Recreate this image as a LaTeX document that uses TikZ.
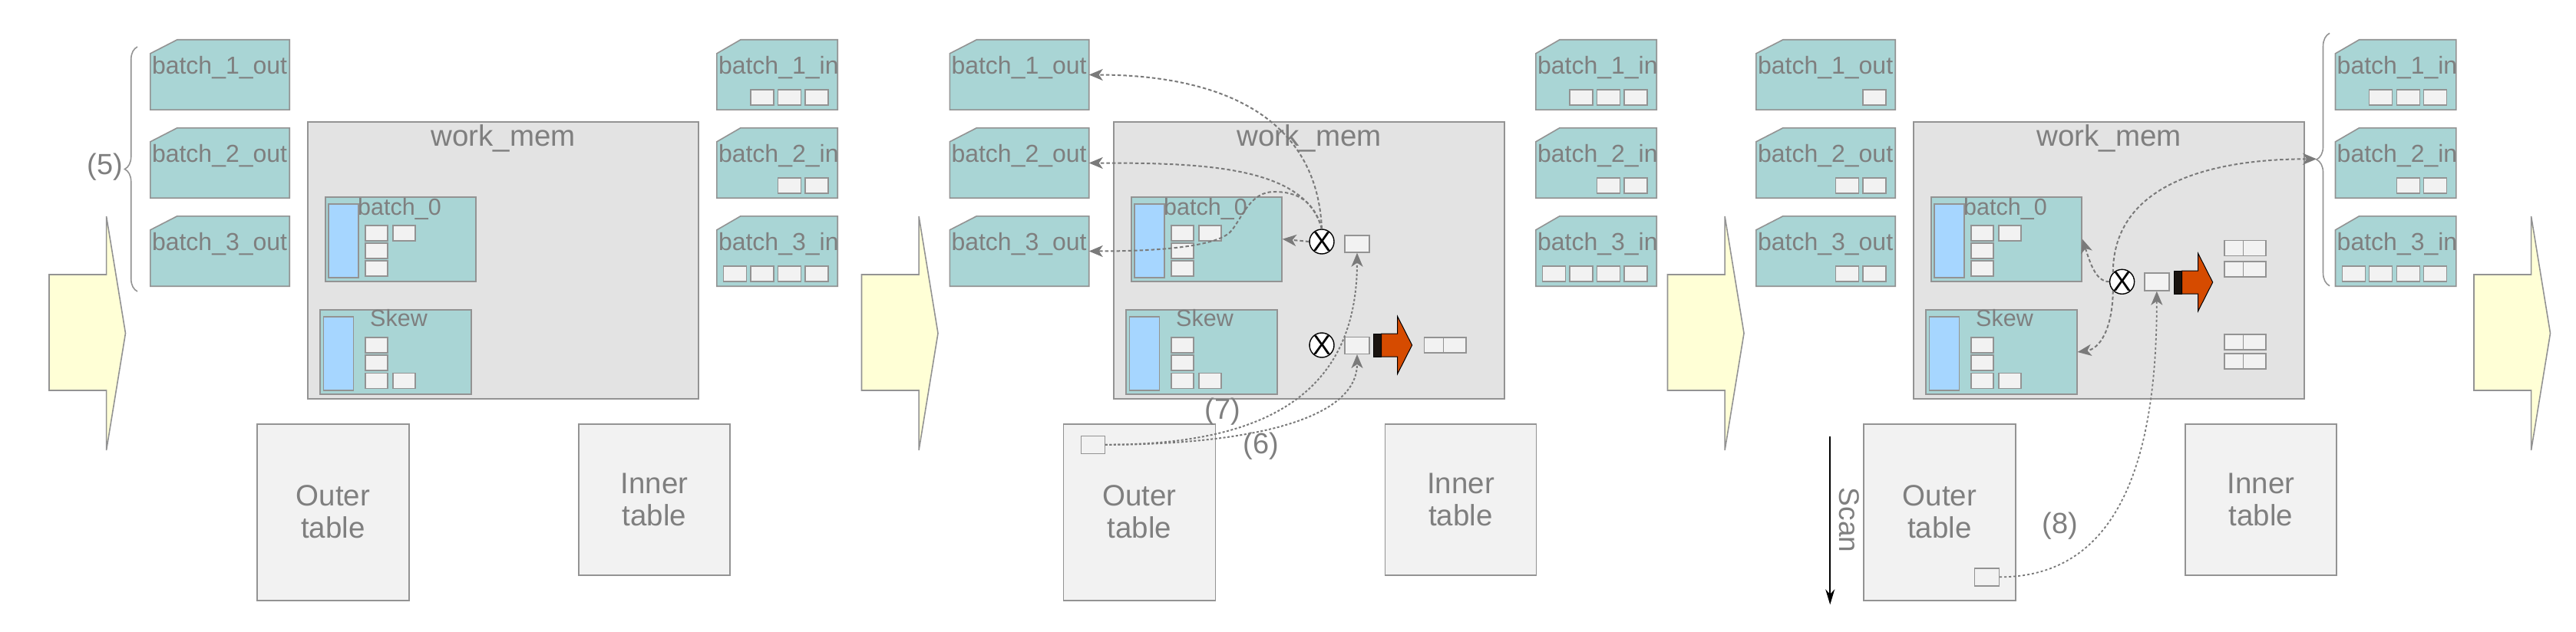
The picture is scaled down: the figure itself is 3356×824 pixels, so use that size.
\documentclass[tikz,border=0pt]{standalone}
\usepackage{fontspec}
\setmainfont{Liberation Sans}
\usetikzlibrary{arrows.meta,calc,decorations.pathreplacing}

\definecolor{tealc}{HTML}{A9D5D5}
\definecolor{wmc}{HTML}{E3E3E3}
\definecolor{boxw}{HTML}{F2F2F2}
\definecolor{bluec}{HTML}{A6D6FF}
\definecolor{yelc}{HTML}{FFFFD6}
\definecolor{edgec}{HTML}{939393}
\definecolor{txtc}{HTML}{7F7F7F}
\definecolor{redc}{HTML}{D64B00}
\definecolor{arrc}{HTML}{7A7A7A}
\definecolor{blk}{HTML}{1A1410}

\tikzset{
 gline/.style={draw=edgec, line width=1.6pt},
 bnode/.style={rectangle, inner sep=0pt, minimum height=91pt},
 bshape/.style={gline, fill=tealc, line join=miter},
 blabel/.style={text=txtc, inner sep=0pt, font=\fontsize{32}{38}\selectfont},
 mlabel/.style={text=txtc, inner sep=0pt, font=\fontsize{30.5}{36}\selectfont},
 biglabel/.style={text=txtc, inner sep=0pt, font=\fontsize{38.5}{42}\selectfont},
 sbox/.style={rectangle, gline, line width=1.4pt, fill=boxw, inner sep=0pt, minimum width=30pt, minimum height=20pt},
 tbox/.style={rectangle, gline, fill=tealc, inner sep=0pt},
 bluebar/.style={rectangle, gline, fill=bluec, inner sep=0pt},
 wmbox/.style={rectangle, gline, fill=wmc, inner sep=0pt, minimum width=509pt, minimum height=361pt},
 tabbox/.style={rectangle, gline, fill=boxw, inner sep=0pt, text=txtc, align=center, font=\fontsize{38.5}{42}\selectfont},
 xnode/.style={circle, draw=black, line width=1.4pt, fill=white, inner sep=0pt, minimum size=32pt},
 xtext/.style={inner sep=0pt, text=black, font=\fontsize{36}{36}\selectfont},
 yshape/.style={gline, fill=yelc},
 conn/.style={draw=arrc, line width=2pt, dash pattern=on 4.5pt off 3pt, -{Stealth[length=18pt,width=15pt,inset=5pt]}},
 dconn/.style={conn, dash pattern=on 3pt off 2.5pt},
 numlabel/.style={text=txtc, inner sep=0pt, font=\fontsize{38}{42}\selectfont},
}

% batch box: name, left, top, width, cut, text
\newcommand\bbx[6]{%
 \node[bnode, minimum width=#4pt] (#1) at ({#2+#4/2},{#3+45.5}) {};
 \draw[bshape] ($(#1.north west)+(0,18)$) -- ($(#1.north west)+(#5,0)$) -- (#1.north east) -- (#1.south east) -- (#1.south west) -- cycle;
 \node[blabel, anchor=base west] (#1-t) at ($(#1.north west)+(2,45)$) {#6};
}
% row of small boxes: prefix, right edge, center y, count
\newcommand\sbrow[4]{%
 \foreach \j in {1,...,#4} {\node[sbox] (#1-\j) at ({#2-15-35.5*(\j-1)},#3) {};}
}
% work_mem group: prefix, offset
\newcommand\wmgrp[2]{%
 \node[wmbox] (#1wm) at ({#2+655.5},339.5) {};
 \node[biglabel, anchor=base] (#1wmt) at ({#2+655.5},190) {work\_mem};
 \node[tbox, minimum width=196.3pt, minimum height=110pt] (#1b0) at ({#2+521.85},311.7) {};
 \node[bluebar, minimum width=39pt, minimum height=96.3pt] (#1b0bar) at ({#2+447.5},313.85) {};
 \node[mlabel, anchor=base west] (#1b0t) at ({#2+466},280) {batch\_0};
 \node[sbox, minimum width=29pt] (#1b0a) at ({#2+490.5},304) {};
 \node[sbox, minimum width=29pt] (#1b0b) at ({#2+526.5},304) {};
 \node[sbox, minimum width=29pt] (#1b0c) at ({#2+490.5},327) {};
 \node[sbox, minimum width=29pt] (#1b0d) at ({#2+490.5},350) {};
 \node[tbox, minimum width=196.8pt, minimum height=110pt] (#1sk) at ({#2+515.4},459) {};
 \node[bluebar, minimum width=39.3pt, minimum height=96pt] (#1skbar) at ({#2+441},461) {};
 \node[mlabel, anchor=base west] (#1skt) at ({#2+482},425) {Skew};
 \node[sbox, minimum width=29pt] (#1ska) at ({#2+490.5},450) {};
 \node[sbox, minimum width=29pt] (#1skb) at ({#2+490.5},473) {};
 \node[sbox, minimum width=29pt] (#1skc) at ({#2+490.5},496.7) {};
 \node[sbox, minimum width=29pt] (#1skd) at ({#2+526.5},496.7) {};
}
% tables: prefix, offset
\newcommand\tabgrp[2]{%
 \node[tabbox, minimum width=198pt, minimum height=230pt] (#1outer) at ({#2+434},667.7) {Outer\\table};
 \node[tabbox, minimum width=197pt, minimum height=197.3pt] (#1inner) at ({#2+852.5},651.35) {Inner\\table};
}
% yellow callout arrow: offset
\newcommand\ylw[1]{%
 \draw[yshape] ({#1+138.6},282) -- ({#1+163.5},434.5) -- ({#1+138.6},587) -- ({#1+138.6},509) -- ({#1+64},509) -- ({#1+64},358) -- ({#1+138.6},358) -- cycle;
}
% red arrow: left x, center y
\newcommand\rarr[2]{%
 \draw[black, line width=0.8pt, fill=blk] (#1,{#2-15}) rectangle ({#1+10},{#2+15});
 \draw[black, line width=1pt, fill=redc, line join=miter] ({#1+10},{#2-15}) -- ({#1+31},{#2-15}) -- ({#1+31},{#2-37.5}) -- ({#1+50},#2) -- ({#1+31},{#2+37.5}) -- ({#1+31},{#2+15}) -- ({#1+10},{#2+15}) -- cycle;
}

\begin{document}
\begin{tikzpicture}[x=1pt,y=-1pt]
\useasboundingbox (0,0) rectangle (3356,824);

% yellow arrows
\ylw{0}
\ylw{1058.5}
\ylw{2108.5}
\ylw{3159}

% ---------------- panel 1 ----------------
\bbx{p1o1}{196}{52}{181}{35}{batch\_1\_out}
\bbx{p1o2}{196}{167}{181}{35}{batch\_2\_out}
\bbx{p1o3}{196}{282}{181}{35}{batch\_3\_out}
\bbx{p1i1}{934}{52}{157}{31}{batch\_1\_in}
\bbx{p1i2}{934}{167}{157}{31}{batch\_2\_in}
\bbx{p1i3}{934}{282}{157}{31}{batch\_3\_in}
\sbrow{p1i1s}{1079}{127}{3}
\sbrow{p1i2s}{1079}{242}{2}
\sbrow{p1i3s}{1079}{357}{4}
\wmgrp{p1}{0}
\tabgrp{p1}{0}
\draw[gline, decorate, decoration={brace, amplitude=16.5pt}] (179,380) -- (179,61);
\node[numlabel] (p1l5) at (137,218) {(5)};

% ---------------- panel 2 ----------------
\bbx{p2o1}{1237.5}{52}{181}{35}{batch\_1\_out}
\bbx{p2o2}{1237.5}{167}{181}{35}{batch\_2\_out}
\bbx{p2o3}{1237.5}{282}{181}{35}{batch\_3\_out}
\bbx{p2i1}{2001}{52}{157}{31}{batch\_1\_in}
\bbx{p2i2}{2001}{167}{157}{31}{batch\_2\_in}
\bbx{p2i3}{2001}{282}{157}{31}{batch\_3\_in}
\sbrow{p2i1s}{2146}{127}{3}
\sbrow{p2i2s}{2146}{242}{2}
\sbrow{p2i3s}{2146}{357}{4}
\wmgrp{p2}{1050}
\tabgrp{p2}{1050.5}
\node[xnode] (p2x1) at (1722,315) {};
\node[xtext] (p2x1t) at (p2x1) {X};
\node[xnode] (p2x2) at (1722,450) {};
\node[xtext] (p2x2t) at (p2x2) {X};
\node[sbox, minimum width=32pt, minimum height=22pt] (p2s1) at (1768,318) {};
\node[sbox, minimum width=32pt, minimum height=22pt] (p2s2) at (1768,450.3) {};
\rarr{1789.6}{450}
\node[sbox, minimum width=25pt] (p2r1) at (1867.85,450) {};
\node[sbox, minimum width=29.5pt] (p2r2) at (1895.05,450) {};
\node[sbox, minimum width=31pt, minimum height=23pt] (p2os) at (1423.7,579.8) {};
\draw[conn] (p2x1.west) -- (p2b0.east);
\draw[conn] (p2x1.north) .. controls (1715,140) and (1570,97.5) .. (p2o1.east);
\draw[conn] (p2x1.north) .. controls (1700,215) and (1560,212.5) .. (p2o2.east);
\draw[conn] (p2x1.north) .. controls (1712,262) and (1690,250) .. (1660,250) .. controls (1630,250) and (1620,280) .. (1605,300) .. controls (1590,320) and (1520,327.5) .. (p2o3.east);
\draw[dconn] (p2os.east) .. controls +(200,0) and +(0,190) .. (p2s1.south);
\draw[dconn] (p2os.east) .. controls +(170,0) and +(0,90) .. (p2s2.south);
\node[numlabel] (p2l7) at (1593,537) {(7)};
\node[numlabel] (p2l6) at (1643,582) {(6)};

% ---------------- panel 3 ----------------
\bbx{p3o1}{2288}{52}{181}{35}{batch\_1\_out}
\bbx{p3o2}{2288}{167}{181}{35}{batch\_2\_out}
\bbx{p3o3}{2288}{282}{181}{35}{batch\_3\_out}
\sbrow{p3o1s}{2457}{127}{1}
\sbrow{p3o2s}{2457}{242}{2}
\sbrow{p3o3s}{2457}{357}{2}
\bbx{p3i1}{3042.7}{52}{157}{31}{batch\_1\_in}
\bbx{p3i2}{3042.7}{167}{157}{31}{batch\_2\_in}
\bbx{p3i3}{3042.7}{282}{157}{31}{batch\_3\_in}
\sbrow{p3i1s}{3187.7}{127}{3}
\sbrow{p3i2s}{3187.7}{242}{2}
\sbrow{p3i3s}{3187.7}{357}{4}
\wmgrp{p3}{2092}
\tabgrp{p3}{2093}
\node[xnode] (p3x) at (2764.6,367.3) {};
\node[xtext] (p3xt) at (p3x) {X};
\node[sbox, minimum width=32pt, minimum height=23pt] (p3s) at (2809.8,367.5) {};
\rarr{2832.7}{368}
\node[sbox, minimum width=24.8pt] (p3g1a) at (2910.2,323.3) {};
\node[sbox, minimum width=29.4pt] (p3g1b) at (2937.3,323.3) {};
\node[sbox, minimum width=24.8pt] (p3g1c) at (2910.2,351) {};
\node[sbox, minimum width=29.4pt] (p3g1d) at (2937.3,351) {};
\node[sbox, minimum width=24.8pt] (p3g2a) at (2910.2,446) {};
\node[sbox, minimum width=29.4pt] (p3g2b) at (2937.3,446) {};
\node[sbox, minimum width=24.8pt] (p3g2c) at (2910.2,471) {};
\node[sbox, minimum width=29.4pt] (p3g2d) at (2937.3,471) {};
\node[sbox, minimum width=32pt, minimum height=23pt] (p3os) at (2588.5,752.3) {};
\draw[gline, decorate, decoration={brace, amplitude=17pt}] (3035,372.7) -- (3035,43.3);
\coordinate (p3br) at (3018,207.3);
\draw[conn] (p3x.west) .. controls +(-18,0) and +(10,30) .. (p3b0.east);
\draw[conn] (p3x.south west) .. controls (2752,430) and (2735,455) .. (p3sk.east);
\draw[conn] (p3x.north west) .. controls (2753,240) and (2880,207.3) .. (p3br);
\draw[dconn, dash pattern=on 3pt off 3pt, line width=1.8pt] (p3os.east) .. controls (2760,752.3) and (2810,600) .. (p3s.south);
\node[numlabel] (p3l8) at (2684,686) {(8)};
\coordinate (p3scanA) at (2384.2,569);
\coordinate (p3scanB) at (2384.2,788.3);
\draw[black, line width=1.5pt, -{Stealth[length=20pt,width=12pt]}] (p3scanA) -- (p3scanB);
\node[numlabel, rotate=-90, font=\fontsize{37}{40}\selectfont] (p3scan) at (2409,678) {Scan};
\end{tikzpicture}
\end{document}
